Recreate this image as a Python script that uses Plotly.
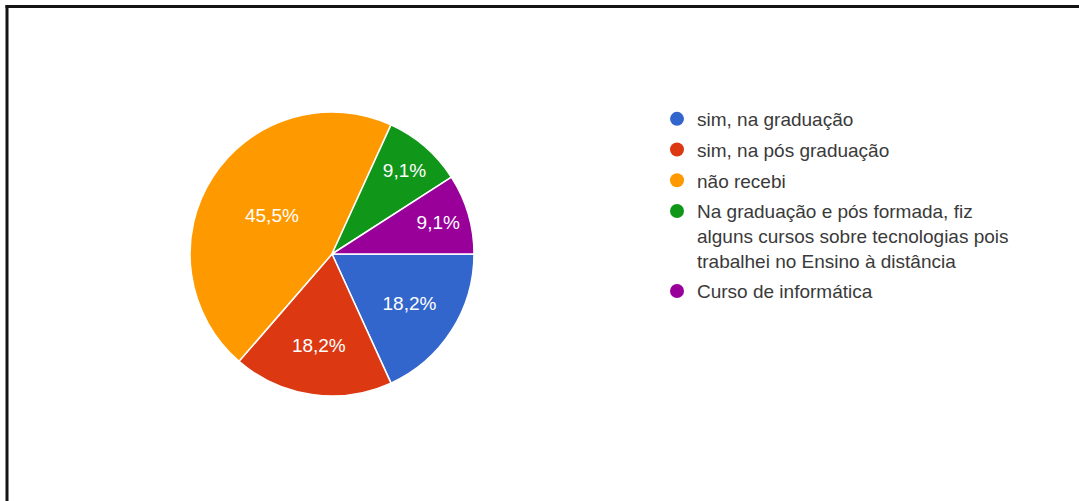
import plotly.graph_objects as go

# Survey answers and response shares
categories = [
    "sim, na graduação",
    "sim, na pós graduação",
    "não recebi",
    "Na graduação e pós formada, fiz<br>alguns cursos sobre tecnologias pois<br>trabalhei no Ensino à distância",
    "Curso de informática",
]
responses = [2, 2, 5, 1, 1]
colors = ["#3366cc", "#dc3912", "#ff9900", "#109618", "#990099"]

W, H = 1079, 501
FONT = "Arial, Liberation Sans, sans-serif"

# Pie geometry in pixels
cx, cy, r = 332, 254, 142

fig = go.Figure()

fig.add_trace(go.Pie(
    labels=categories,
    values=responses,
    sort=False,
    direction="clockwise",
    rotation=90,
    marker=dict(colors=colors, line=dict(color="white", width=1.5)),
    texttemplate="%{percent:.1%}",
    textposition="inside",
    insidetextorientation="horizontal",
    textfont=dict(family=FONT, size=19, color="white"),
    showlegend=False,
    hoverinfo="label+percent",
    domain=dict(
        x=[(cx - r) / W, (cx + r) / W],
        y=[(H - cy - r) / H, (H - cy + r) / H],
    ),
))

# Legend entries with round markers
for i, (name, col) in enumerate(zip(categories, colors)):
    fig.add_trace(go.Scatter(
        x=[None], y=[None],
        mode="markers",
        name=name,
        legendgroup=f"g{i}",
        marker=dict(symbol="circle", size=14, color=col),
        showlegend=True,
    ))

# Frame: top and left edges only
frame_line = dict(color="#141414", width=3)

fig.update_layout(
    width=W,
    height=H,
    margin=dict(l=0, r=0, t=0, b=0),
    paper_bgcolor="white",
    plot_bgcolor="white",
    separators=",.",
    xaxis=dict(visible=False),
    yaxis=dict(visible=False),
    legend=dict(
        x=(677 - 20) / W,
        y=1 - 100 / H,
        xanchor="left",
        yanchor="top",
        valign="top",
        tracegroupgap=3,
        font=dict(family=FONT, size=19, color="#3a3a3a"),
        bgcolor="rgba(0,0,0,0)",
    ),
    shapes=[
        dict(type="line", xref="paper", yref="paper",
             x0=5.5 / W, x1=1.5, y0=1 - 6.5 / H, y1=1 - 6.5 / H,
             line=frame_line),
        dict(type="line", xref="paper", yref="paper",
             x0=7 / W, x1=7 / W, y0=-0.5, y1=1 - 5 / H,
             line=frame_line),
    ],
)

fig.write_html("out.html")
